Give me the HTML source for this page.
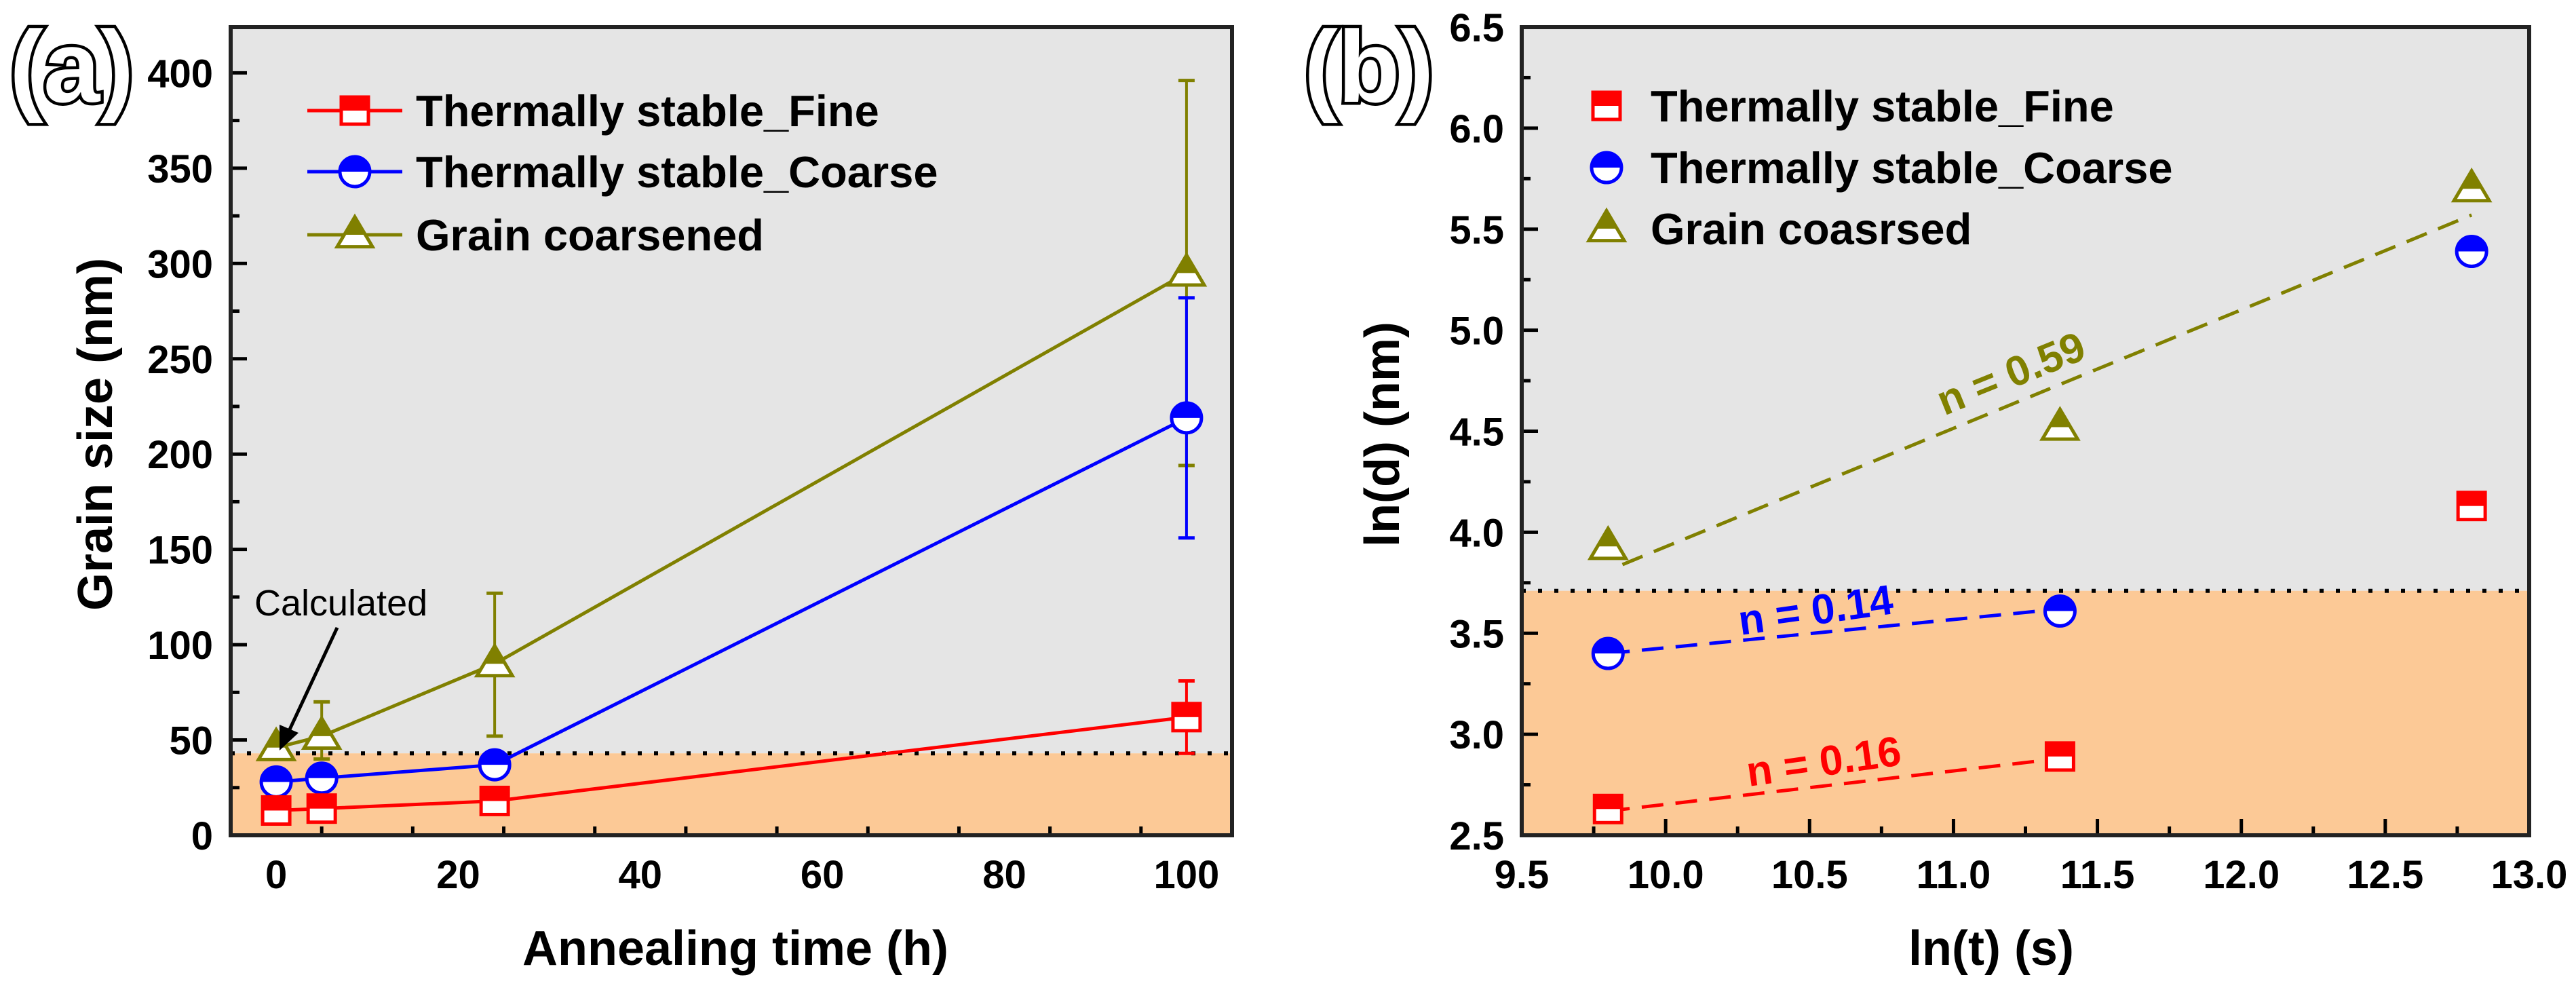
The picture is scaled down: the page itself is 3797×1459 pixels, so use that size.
<!DOCTYPE html>
<html><head><meta charset="utf-8">
<style>
html,body{margin:0;padding:0;background:#fff;}
svg{display:block;font-family:"Liberation Sans",Arial,sans-serif;}
</style></head>
<body>
<svg id="fig" width="3797" height="1459" viewBox="0 0 3797 1459" xmlns="http://www.w3.org/2000/svg"></svg>
<script>
// ---- Panel (a) data ----
const aTimes = [0, 5, 24, 100];
const aFine = [13, 14, 18, 62];
const aFineErrLo = [13, 14, 18, 43];
const aFineErrHi = [13, 14, 18, 81];
const aCoarse = [28, 30, 37, 219];
const aCoarseErrLo = [28, 30, 34, 156];
const aCoarseErrHi = [28, 30, 40, 282];
const aCoarsened = [46, 52, 90, 295];
const aCoarsenedErrLo = [46, 40, 52, 194];
const aCoarsenedErrHi = [46, 70, 127, 396];
const aXTicks = [0, 20, 40, 60, 80, 100];
const aYTicks = [0, 50, 100, 150, 200, 250, 300, 350, 400];
const aThreshold = [43];
// ---- Panel (b) data ----
const bLnT = [9.8, 11.37, 12.8];
const bFine = [2.63, 2.89, 4.13];
const bCoarse = [3.40, 3.61, 5.39];
const bCoarsened = [3.93, 4.52, 5.70];
const bFitCoarsened = [[9.85, 3.84], [12.8, 5.57]];
const bFitCoarse = [[9.8, 3.40], [11.37, 3.62]];
const bFitFine = [[9.8, 2.62], [11.37, 2.88]];
const bXTicks = [9.5, 10.0, 10.5, 11.0, 11.5, 12.0, 12.5, 13.0];
const bYTicks = [2.5, 3.0, 3.5, 4.0, 4.5, 5.0, 5.5, 6.0, 6.5];
const bThreshold = [3.71];

const NS = "http://www.w3.org/2000/svg";
const svg = document.getElementById('fig');
function mk(tag, attrs, parent) {
  const e = document.createElementNS(NS, tag);
  for (const k in attrs) e.setAttribute(k, attrs[k]);
  (parent || svg).appendChild(e);
  return e;
}
const RED = '#ff0000', BLUE = '#0000ff', OLIVE = '#808000';

const A = {l: 340, r: 1816, t: 40, b: 1231, x0: -5, x1: 105, y0: 0, y1: 424};
const B = {l: 2243, r: 3728, t: 40, b: 1231, x0: 9.5, x1: 13.0, y0: 2.5, y1: 6.5};
function sx(P, v) { return P.l + (v - P.x0) / (P.x1 - P.x0) * (P.r - P.l); }
function sy(P, v) { return P.b - (v - P.y0) / (P.y1 - P.y0) * (P.b - P.t); }

function marker(g, type, cx, cy, color) {
  let e;
  if (type === 'sq') {
    const s = 20;
    e = mk('rect', {x: cx - s, y: cy - s, width: 2 * s, height: 2 * s, fill: '#fff', stroke: color, 'stroke-width': 5}, g);
    mk('rect', {x: cx - s, y: cy - s, width: 2 * s, height: s, fill: color}, g);
  } else if (type === 'circ') {
    const r = 22;
    e = mk('circle', {cx: cx, cy: cy, r: r, fill: '#fff', stroke: color, 'stroke-width': 5}, g);
    mk('path', {d: `M${cx - r} ${cy} A${r} ${r} 0 0 1 ${cx + r} ${cy} Z`, fill: color}, g);
  } else {
    const h = 44, w = 26;
    e = mk('polygon', {points: `${cx},${cy - h * 0.6} ${cx + w},${cy + h * 0.4} ${cx - w},${cy + h * 0.4}`, fill: '#fff', stroke: color, 'stroke-width': 5}, g);
    mk('polygon', {points: `${cx},${cy - h * 0.6} ${cx + w * 0.6},${cy} ${cx - w * 0.6},${cy}`, fill: color}, g);
  }
  return e;
}

function frame(P, xTicks, yTicks, xMinorStep, yMinorStep, fmt, thr, name) {
  const g = mk('g', {});
  
  
  const ty = sy(P, thr);
  const bgGray = mk('rect', {x: P.l, y: P.t, width: P.r - P.l, height: ty - P.t, fill: '#e5e5e5'}, g);
  
  
  const bgOr = mk('rect', {x: P.l, y: ty, width: P.r - P.l, height: P.b - ty, fill: '#fcc996'}, g);
  
  
  const dl = mk('line', {x1: P.l, x2: P.r, y1: ty, y2: ty, stroke: '#000', 'stroke-width': 6, 'stroke-dasharray': '6 18'}, g);
  
  
  for (let v = P.x0; v <= P.x1 + 1e-9; v += xMinorStep) {
    const rv = Math.round(v * 1000) / 1000;
    if (rv < P.x0 || rv > P.x1) continue;
    const major = xTicks.some(t => Math.abs(t - rv) < 1e-6);
    const x = sx(P, rv);
    mk('line', {x1: x, x2: x, y1: P.b, y2: P.b - (major ? 24 : 13), stroke: '#000', 'stroke-width': 5}, g);
  }
  for (let v = P.y0; v <= P.y1 + 1e-9; v += yMinorStep) {
    const rv = Math.round(v * 1000) / 1000;
    const major = yTicks.some(t => Math.abs(t - rv) < 1e-6);
    const y = sy(P, rv);
    mk('line', {x1: P.l, x2: P.l + (major ? 24 : 13), y1: y, y2: y, stroke: '#000', 'stroke-width': 5}, g);
  }
  const fr = mk('rect', {x: P.l, y: P.t, width: P.r - P.l, height: P.b - P.t, fill: 'none', stroke: '#222', 'stroke-width': 6});
  
  
  xTicks.forEach(v => {
    const t = mk('text', {x: sx(P, v), y: P.b + 78, 'text-anchor': 'middle', 'font-size': 58, 'font-weight': 'bold'});
    t.textContent = fmt(v);
    
    
  });
  yTicks.forEach(v => {
    const t = mk('text', {x: P.l - 26, y: sy(P, v) + 21, 'text-anchor': 'end', 'font-size': 58, 'font-weight': 'bold'});
    t.textContent = fmt(v);
    
    
  });
}

frame(A, aXTicks, aYTicks, 10, 25, v => String(v), aThreshold[0], 'panel-a');
frame(B, bXTicks, bYTicks, 0.25, 0.25, v => v.toFixed(1), bThreshold[0], 'panel-b');

function seriesA(vals, lo, hi, color, type, name) {
  const g = mk('g', {});
  
  
  aTimes.forEach((t, i) => {
    const x = sx(A, t);
    if (hi[i] - lo[i] > 0.5) {
      mk('line', {x1: x, x2: x, y1: sy(A, lo[i]), y2: sy(A, hi[i]), stroke: color, 'stroke-width': 4}, g);
      [lo[i], hi[i]].forEach(v => mk('line', {x1: x - 12, x2: x + 12, y1: sy(A, v), y2: sy(A, v), stroke: color, 'stroke-width': 5}, g));
    }
  });
  const pts = aTimes.map((t, i) => sx(A, t) + ',' + sy(A, vals[i])).join(' ');
  const pl = mk('polyline', {points: pts, fill: 'none', stroke: color, 'stroke-width': 5}, g);
  
  
  aTimes.forEach((t, i) => {
    const m = marker(g, type, sx(A, t), sy(A, vals[i]), color);
    
    
  });
}
seriesA(aCoarsened, aCoarsenedErrLo, aCoarsenedErrHi, OLIVE, 'tri', 'series-grain-coarsened');
seriesA(aCoarse, aCoarseErrLo, aCoarseErrHi, BLUE, 'circ', 'series-thermally-stable-coarse');
seriesA(aFine, aFineErrLo, aFineErrHi, RED, 'sq', 'series-thermally-stable-fine');

const calc = mk('text', {x: 375, y: 907, 'font-size': 54});
calc.textContent = 'Calculated';


const arr = mk('g', {});


mk('line', {x1: 497, y1: 925, x2: 420, y2: 1090, stroke: '#000', 'stroke-width': 5}, arr);
mk('polygon', {points: '412,1106 412,1068 440,1080', fill: '#000'}, arr);

const legA = [['Thermally stable_Fine', RED, 'sq', 163], ['Thermally stable_Coarse', BLUE, 'circ', 253], ['Grain coarsened', OLIVE, 'tri', 346]];
legA.forEach(([lab, c, type, y]) => {
  const g = mk('g', {});
  
  
  mk('line', {x1: 453, x2: 593, y1: y, y2: y, stroke: c, 'stroke-width': 5}, g);
  marker(g, type, 523, y, c);
  const t = mk('text', {x: 613, y: y + 23, 'font-size': 65, 'font-weight': 'bold'}, g);
  t.textContent = lab;
});

function fitLine(f, color, name) {
  const l = mk('line', {x1: sx(B, f[0][0]), y1: sy(B, f[0][1]), x2: sx(B, f[1][0]), y2: sy(B, f[1][1]), stroke: color, 'stroke-width': 5, 'stroke-dasharray': '32 18'});
  
  
}
fitLine(bFitCoarsened, OLIVE, 'fit-line-coarsened');
fitLine(bFitCoarse, BLUE, 'fit-line-coarse');
fitLine(bFitFine, RED, 'fit-line-fine');

function seriesB(vals, color, type, name) {
  const g = mk('g', {});
  
  
  bLnT.forEach((t, i) => {
    const m = marker(g, type, sx(B, t), sy(B, vals[i]), color);
    
    
  });
}
seriesB(bCoarsened, OLIVE, 'tri', 'series-b-grain-coarsened');
seriesB(bCoarse, BLUE, 'circ', 'series-b-coarse');
seriesB(bFine, RED, 'sq', 'series-b-fine');

function nLabel(txt, x, y, ang, color, name) {
  const t = mk('text', {x: x, y: y, 'text-anchor': 'middle', 'font-size': 62, 'font-weight': 'bold', fill: color, transform: `rotate(${ang} ${x} ${y})`});
  t.textContent = txt;
  
  
}
nLabel('n = 0.59', 2972, 570, -22, OLIVE, 'slope-label-coarsened');
nLabel('n = 0.14', 2679, 920, -8, BLUE, 'slope-label-coarse');
nLabel('n = 0.16', 2691, 1143, -8, RED, 'slope-label-fine');

const legB = [['Thermally stable_Fine', RED, 'sq', 156], ['Thermally stable_Coarse', BLUE, 'circ', 247], ['Grain coasrsed', OLIVE, 'tri', 337]];
legB.forEach(([lab, c, type, y]) => {
  const g = mk('g', {});
  
  
  marker(g, type, 2368, y, c);
  const t = mk('text', {x: 2433, y: y + 23, 'font-size': 65, 'font-weight': 'bold'}, g);
  t.textContent = lab;
});

function title(txt, x, y, rot, name) {
  const t = mk('text', {x: x, y: y, 'text-anchor': 'middle', 'font-size': 72, 'font-weight': 'bold', transform: rot ? `rotate(-90 ${x} ${y})` : ''});
  t.textContent = txt;
  
  
}
title('Grain size (nm)', 165, 640, true, 'panel-a-y-axis-title');
title('Annealing time (h)', 1084, 1422, false, 'panel-a-x-axis-title');
title('ln(d) (nm)', 2062, 640, true, 'panel-b-y-axis-title');
title('ln(t) (s)', 2935, 1422, false, 'panel-b-x-axis-title');

function letter(txt, x, name) {
  const t = mk('text', {x: x, y: 150, 'font-size': 150, 'font-weight': 'bold', fill: '#fff', stroke: '#000', 'stroke-width': 9, 'paint-order': 'stroke'});
  t.textContent = txt;
  
  
}
letter('(a)', 14, 'panel-a-label');
letter('(b)', 1922, 'panel-b-label');
</script>
</body></html>
